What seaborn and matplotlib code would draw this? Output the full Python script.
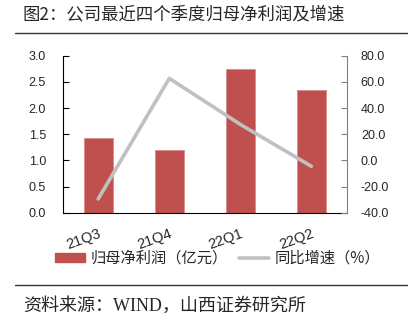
import matplotlib
matplotlib.use("Agg")
import matplotlib.pyplot as plt
import seaborn as sns
import numpy as np
import pandas as pd
from matplotlib.patches import Patch
from matplotlib.lines import Line2D

categories = ["21Q3", "21Q4", "22Q1", "22Q2"]
profit = [1.42, 1.19, 2.74, 2.35]
growth = [-29.5, 62.7, 27.5, -4.5]
left_ticks = [0.0, 0.5, 1.0, 1.5, 2.0, 2.5, 3.0]
right_ticks = [-40, -20, 0, 20, 40, 60, 80]
title = "图2：公司最近四个季度归母净利润及增速"
source = "资料来源：WIND，山西证券研究所"
bar_label = "归母净利润（亿元）"
line_label = "同比增速（%）"

sns.set_theme(style="white")
plt.rcParams['font.family'] = ['Liberation Sans', 'Noto Sans CJK SC', 'DejaVu Sans']

BAR = "#C0504D"
LINE = "#C0C0C0"
CJK = ['Noto Sans CJK SC', 'DejaVu Sans']

fig = plt.figure(figsize=(4.15, 3.24), dpi=100)
fig.patch.set_facecolor("white")
ax = fig.add_axes([0.151, 0.3435, 0.685, 0.4845])

df = pd.DataFrame({"q": categories, "v": profit})
sns.barplot(data=df, x="q", y="v", ax=ax, color=BAR, width=0.41,
            saturation=1, edgecolor="#D98C8A", linewidth=0.6)
ax.set_xlim(-0.5, len(categories) - 0.5)
ax.set_ylim(0, 3.0)
ax.set_yticks(left_ticks)
ax.set_yticklabels([f"{t:.1f}" for t in left_ticks], fontsize=9)
ax.set_xlabel("")
ax.set_ylabel("")
ax.set_xticks(np.arange(-0.5, len(categories) + 0.5, 1), minor=False)
ax.set_xticklabels([])
ax.set_xticks(np.arange(len(categories)), minor=True)
ax.set_xticklabels(categories, minor=True, rotation=20, ha="right",
                   rotation_mode="anchor", fontsize=10.5)
ax.tick_params(axis="x", which="major", direction="in", length=5, color="black", width=0.8)
ax.tick_params(axis="x", which="minor", length=0, pad=10)
ax.tick_params(axis="y", direction="in", length=4, color="black", width=0.8, pad=12)
ax.spines["top"].set_visible(False)
ax.spines["left"].set_color("black")
ax.spines["bottom"].set_color("black")
ax.spines["left"].set_linewidth(0.8)
ax.spines["bottom"].set_linewidth(0.8)
ax.spines["right"].set_visible(False)

ax2 = ax.twinx()
sns.lineplot(x=np.arange(len(categories)), y=growth, ax=ax2, color=LINE, linewidth=2.6)
ax2.set_ylim(-40, 80)
ax2.set_yticks(right_ticks)
ax2.set_yticklabels([f"{t:.1f}" for t in right_ticks], fontsize=9)
ax2.tick_params(axis="y", direction="in", length=4, color="#808080", width=0.8, pad=10)
ax2.spines["top"].set_visible(False)
ax2.spines["left"].set_visible(False)
ax2.spines["bottom"].set_visible(False)
ax2.spines["right"].set_color("#808080")
ax2.spines["right"].set_linewidth(0.8)
ax2.set_ylabel("")

handles = [Patch(facecolor=BAR, edgecolor=BAR), Line2D([0], [0], color=LINE, linewidth=2.6)]
leg = fig.legend(handles, [bar_label, line_label], loc="center", bbox_to_anchor=(0.524, 0.203),
                 ncol=2, frameon=False, prop={'family': CJK, 'size': 11},
                 handlelength=2.0, handleheight=0.5, columnspacing=0.7, handletextpad=0.35)

fig.text(0.055, 0.955, title, fontsize=12.5, family=CJK, va="center", ha="left")
fig.add_artist(Line2D([0.036, 0.981], [0.898, 0.898], color="#333333", linewidth=1.0))
fig.add_artist(Line2D([0.036, 0.981], [0.12, 0.12], color="#333333", linewidth=1.0))
fig.text(0.055, 0.056, source, fontsize=13, family=['Liberation Serif', 'Noto Sans CJK SC'],
         va="center", ha="left")

fig.savefig("out.png", dpi=100, facecolor="white")
